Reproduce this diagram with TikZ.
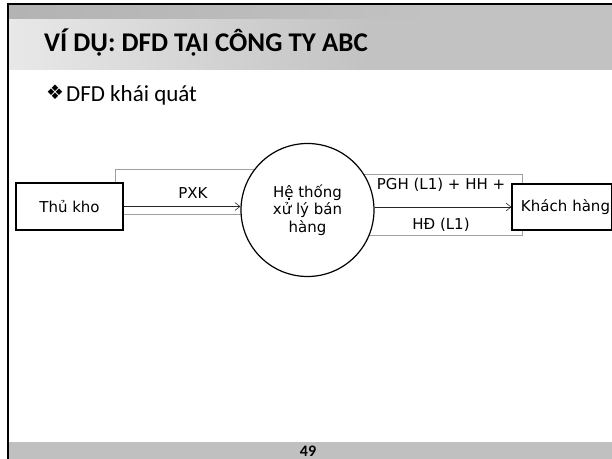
\documentclass[tikz,border=0pt]{standalone}
\usepackage{fontspec}
\setmainfont{Carlito}
\newfontfamily\diafont{DejaVu Sans}
\usetikzlibrary{arrows.meta}

\definecolor{stripL}{HTML}{A8A8A8}
\definecolor{stripR}{HTML}{C2C2C2}
\definecolor{bandA}{HTML}{D6D6D6}
\definecolor{bandB}{HTML}{E8E8E8}
\definecolor{bandC}{HTML}{C2C2C2}
\definecolor{footgray}{HTML}{C0C0C0}
\definecolor{framegray}{HTML}{A0A0A0}

\pgfdeclarehorizontalshading{titleband}{100bp}{%
  color(0bp)=(bandA); color(25bp)=(bandB); color(55bp)=(bandC); color(100bp)=(bandC)}
\pgfdeclarehorizontalshading{titlestrip}{100bp}{%
  color(0bp)=(stripL); color(60bp)=(stripR); color(100bp)=(stripR)}

\tikzset{
  diatext/.style={font={\diafont\fontsize{15bp}{17.5bp}\selectfont}},
  entity/.style={draw, line width=1.2bp, fill=white, diatext, inner sep=0pt},
  process/.style={draw, circle, line width=1.2bp, fill=white, diatext,
    align=center, minimum size=133bp, inner sep=0pt},
  flow/.style={draw=black!85, line width=0.6bp,
    -{Straight Barb[length=5bp,width=8bp,line width=0.6bp]}},
  labelframe/.style={draw=framegray, line width=0.6bp},
  flowlabel/.style={diatext, inner sep=0pt},
}

\begin{document}
\begin{tikzpicture}[x=1bp,y=-1bp]
\useasboundingbox (0,0) rectangle (612,459);

% slide header
\shade[shading=titlestrip] (9,5) rectangle (612,20);
\shade[shading=titleband] (9,20) rectangle (612,70);
\node[anchor=base west, inner sep=0pt, font={\bfseries\fontsize{27bp}{32bp}\selectfont}]
  (title) at (44,52) {VÍ DỤ: DFD TẠI CÔNG TY ABC};

% bullet line
\node[anchor=base west, inner sep=0pt, font={\diafont\fontsize{20bp}{24bp}\selectfont}]
  (bul) at (46,100) {❖};
\node[anchor=base west, inner sep=0pt, font={\fontsize{23bp}{27bp}\selectfont}]
  (sub) at (66,102) {DFD khái quát};

% footer
\fill[footgray] (9,442) rectangle (612,459);
\node[anchor=base, inner sep=0pt, font={\bfseries\fontsize{16bp}{19bp}\selectfont}]
  (pagenum) at (308,456) {49};

% slide frame
\draw[line width=2bp] (7,4) -- (612,4);
\draw[line width=2bp] (8,3) -- (8,459);

% frames of the flow labels
\draw[labelframe] (115,169) rectangle (258,214);
\draw[labelframe] (360,174) rectangle (522,235);

% entities and process
\node[entity, minimum width=107bp, minimum height=47bp] (tk) at (69.5,206.5) {Thủ kho};
\node[entity, minimum width=100bp, minimum height=46bp, text width=96bp, align=right]
  (kh) at (562,207) {Khách hàng};
\node[process] (proc) at (307.5,210) {Hệ thống\\xử lý bán\\hàng};

% data flows
\draw[flow] (tk.east) -- (proc.west |- tk.east);
\draw[flow] (proc.east |- kh.west) -- (kh.west);

% flow labels
\node[flowlabel] (lpxk) at (193,193) {PXK};
\node[flowlabel] (lpgh) at (441,185) {PGH (L1) + HH +};
\node[flowlabel] (lhd) at (441,225) {HĐ (L1)};
\end{tikzpicture}
\end{document}
